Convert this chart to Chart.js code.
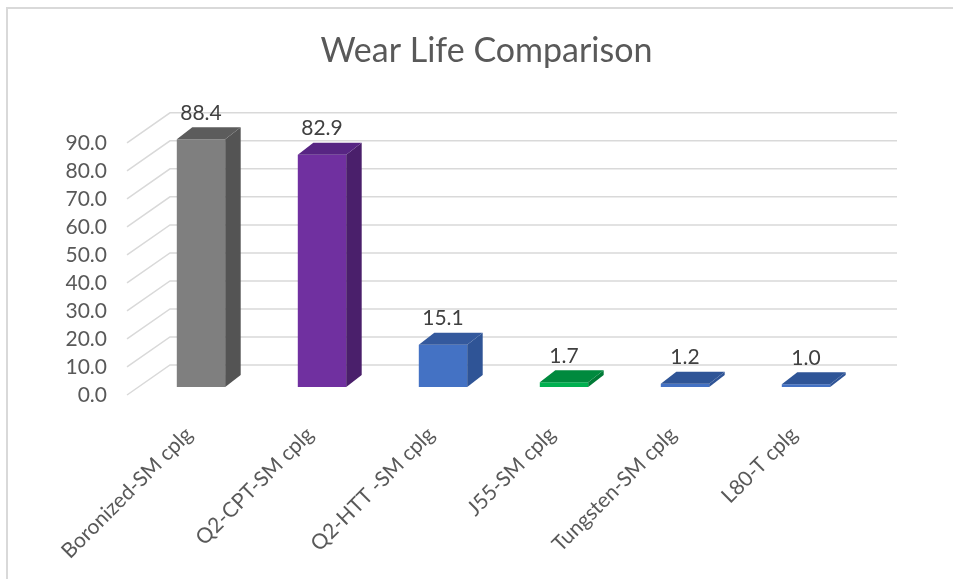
<!DOCTYPE html>
<html>
<head>
<meta charset="utf-8">
<script src="https://cdn.jsdelivr.net/npm/chart.js@4/dist/chart.umd.min.js"></script>
<style>
  html, body { margin: 0; padding: 0; background: #fff; overflow: hidden; }
  #wrap { position: relative; width: 953px; height: 579px; }
  #frame { position: absolute; left: 6px; top: 7px; width: 1000px; height: 1000px;
           border-top: 2px solid #d9d9d9; border-left: 2px solid #d9d9d9; }
  canvas { position: absolute; left: 0; top: 0; }
</style>
</head>
<body>
<div id="wrap">
  <div id="frame"></div>
  <canvas id="chart" width="953" height="579"></canvas>
</div>
<script>
// データ
const categories = ['Boronized-SM cplg', 'Q2-CPT-SM cplg', 'Q2-HTT -SM cplg', 'J55-SM cplg', 'Tungsten-SM cplg', 'L80-T cplg'];
const wearLife = [88.4, 82.9, 15.1, 1.7, 1.2, 1.0];
const yTicks = [0, 10, 20, 30, 40, 50, 60, 70, 80, 90];

// 色（前面・側面・上面）
const frontColors = ['#7f7f7f', '#7030a0', '#4472c4', '#00b050', '#4472c4', '#4472c4'];
const sideColors = ['#545454', '#4a1f6b', '#2f5496', '#007a36', '#2f5496', '#2f5496'];
const topColors = ['#5c5c5c', '#572583', '#34599d', '#008a3e', '#2f5597', '#2f5597'];

const FONT = 'Lato, "Noto Sans", sans-serif';
const bar3d = { dx: 15.5, dy: -12 };     // 棒の奥行き
const wall = { front: 8, back: -22, left: -13.5, depth: 43 }; // 壁の斜線

const wallPlugin = {
  id: 'wall3d',
  beforeDatasetsDraw(chart) {
    const { ctx, chartArea, scales } = chart;
    const y = scales.y;
    ctx.save();
    ctx.strokeStyle = '#d9d9d9';
    ctx.lineWidth = 1.5;
    yTicks.forEach(v => {
      const p = y.getPixelForValue(v);
      const bx = chartArea.left + wall.left + wall.depth;
      ctx.beginPath();
      ctx.moveTo(chartArea.left + wall.left, p + wall.front);
      ctx.lineTo(bx, p + wall.back);
      ctx.lineTo(chartArea.right + wall.left + wall.depth + 1, p + wall.back);
      ctx.stroke();
    });
    ctx.restore();
  },
  afterDatasetsDraw(chart) {
    const { ctx } = chart;
    const meta = chart.getDatasetMeta(0);
    ctx.save();
    meta.data.forEach((bar, i) => {
      const { x, y, base, width } = bar.getProps(['x', 'y', 'base', 'width'], true);
      const x1 = x - width / 2, x2 = x + width / 2;
      // 側面
      ctx.fillStyle = sideColors[i];
      ctx.beginPath();
      ctx.moveTo(x2, base);
      ctx.lineTo(x2 + bar3d.dx, base + bar3d.dy);
      ctx.lineTo(x2 + bar3d.dx, y + bar3d.dy);
      ctx.lineTo(x2, y);
      ctx.closePath();
      ctx.fill();
      // 上面
      ctx.fillStyle = topColors[i];
      ctx.beginPath();
      ctx.moveTo(x1, y);
      ctx.lineTo(x1 + bar3d.dx, y + bar3d.dy);
      ctx.lineTo(x2 + bar3d.dx, y + bar3d.dy);
      ctx.lineTo(x2, y);
      ctx.closePath();
      ctx.fill();
      // 値ラベル
      ctx.fillStyle = '#404040';
      ctx.font = '21px ' + FONT;
      ctx.textAlign = 'center';
      ctx.textBaseline = 'middle';
      ctx.fillText(wearLife[i].toFixed(1), x, y - 26);
    });
    ctx.restore();
  }
};

new Chart(document.getElementById('chart'), {
  type: 'bar',
  data: {
    labels: categories,
    datasets: [{
      data: wearLife,
      backgroundColor: frontColors,
      borderWidth: 0,
      barPercentage: 0.4,
      categoryPercentage: 1.0
    }]
  },
  options: {
    responsive: false,
    animation: false,
    // タイトルを中央に寄せるため左側だけ余白
    layout: { padding: { left: 20, right: 0, top: 0, bottom: 0 } },
    plugins: {
      legend: { display: false },
      tooltip: { enabled: false },
      title: {
        display: true,
        text: 'Wear Life Comparison',
        color: '#595959',
        font: { family: FONT, size: 34, weight: 'normal' },
        padding: { top: 31, bottom: 63 }
      }
    },
    scales: {
      x: {
        offset: true,
        grid: { display: false, drawTicks: false },
        border: { display: false },
        ticks: {
          color: '#595959',
          font: { family: FONT, size: 21 },
          minRotation: 45,
          maxRotation: 45,
          autoSkip: false,
          padding: 35,
          labelOffset: -12
        },
        afterFit(scale) { scale.height = 192; }
      },
      y: {
        min: 0,
        max: 90,
        grid: { display: false, drawTicks: false },
        border: { display: false },
        ticks: {
          stepSize: 10,
          autoSkip: false,
          color: '#595959',
          font: { family: FONT, size: 21 },
          padding: 33.5,
          labelOffset: 8,
          callback: v => v.toFixed(1)
        },
        afterFit(scale) { scale.width = 120.5; }
      },
      // 右側の空白用（表示なし）
      yRight: {
        position: 'right',
        grid: { display: false, drawTicks: false },
        border: { display: false },
        ticks: { display: false },
        afterFit(scale) { scale.width = 86.5; }
      }
    }
  },
  plugins: [wallPlugin]
});
</script>
</body>
</html>
